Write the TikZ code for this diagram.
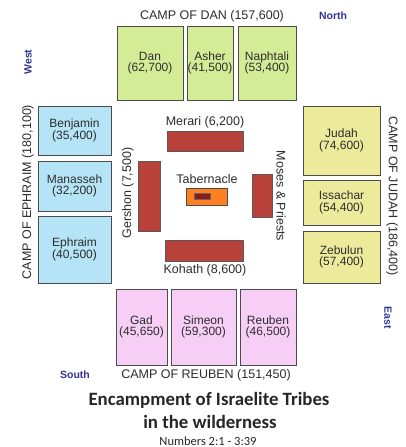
\documentclass[tikz,border=0pt]{standalone}
\usepackage{fontspec}
\setmainfont{Liberation Sans}
\newfontfamily\titlefont{Carlito}
\usetikzlibrary{positioning}

\definecolor{dangreen}{RGB}{212,236,150}
\definecolor{ephblue}{RGB}{180,228,246}
\definecolor{judyellow}{RGB}{238,234,156}
\definecolor{reupink}{RGB}{246,206,246}
\definecolor{levred}{RGB}{184,66,58}
\definecolor{taborange}{RGB}{255,128,32}
\definecolor{arkred}{RGB}{140,26,26}
\definecolor{compassblue}{RGB}{52,52,150}
\definecolor{labelgray}{RGB}{45,45,45}

\tikzset{
  tribe/.style={draw=black!70,line width=1pt,text=labelgray,align=center,inner sep=0pt,
    font=\fontsize{12}{11.5}\selectfont},
  levite/.style={draw=black!65,fill=levred,line width=0.6pt,inner sep=0pt},
  camp/.style={text=labelgray,inner sep=0pt,font=\fontsize{12.5}{14}\selectfont},
  compass/.style={text=compassblue,inner sep=0pt,font=\bfseries\fontsize{10.5}{12}\selectfont},
}

\begin{document}
\begin{tikzpicture}[x=1pt,y=-1pt]
  \useasboundingbox[fill=white] (0,0) rectangle (405,447);

  % camp of Dan (north)
  \node[tribe,fill=dangreen,minimum width=66pt,minimum height=74pt] (dan) at (150,63) {Dan\\(62,700)};
  \node[tribe,fill=dangreen,minimum width=46pt,minimum height=74pt] (asher) at (210,63) {Asher\\(41,500)};
  \node[tribe,fill=dangreen,minimum width=58pt,minimum height=74pt] (naphtali) at (267,63) {Naphtali\\(53,400)};
  \node[camp] (campdan) at (212,16) {CAMP OF DAN (157,600)};

  % camp of Ephraim (west)
  \node[tribe,fill=ephblue,minimum width=73pt,minimum height=49pt] (benjamin) at (74.5,130.5) {Benjamin\\(35,400)};
  \node[tribe,fill=ephblue,minimum width=73pt,minimum height=50pt] (manasseh) at (74.5,186) {Manasseh\\(32,200)};
  \node[tribe,fill=ephblue,minimum width=73pt,minimum height=67pt] (ephraim) at (74.5,249.5) {Ephraim\\(40,500)};
  \node[camp,rotate=90] (campephraim) at (28,192) {CAMP OF EPHRAIM (180,100)};

  % camp of Judah (east)
  \node[tribe,fill=judyellow,minimum width=77pt,minimum height=69pt] (judah) at (341.5,140.5) {Judah\\(74,600)};
  \node[tribe,fill=judyellow,minimum width=77pt,minimum height=45pt] (issachar) at (341.5,202.5) {Issachar\\(54,400)};
  \node[tribe,fill=judyellow,minimum width=77pt,minimum height=52pt] (zebulun) at (341.5,257) {Zebulun\\(57,400)};
  \node[camp,rotate=-90] (campjudah) at (392,196) {CAMP OF JUDAH (186,400)};

  % camp of Reuben (south)
  \node[tribe,fill=reupink,minimum width=51pt,minimum height=76pt] (gad) at (141.5,327) {Gad\\(45,650)};
  \node[tribe,fill=reupink,minimum width=65pt,minimum height=76pt] (simeon) at (203.5,327) {Simeon\\(59,300)};
  \node[tribe,fill=reupink,minimum width=56pt,minimum height=76pt] (reuben) at (268,327) {Reuben\\(46,500)};
  \node[camp] (campreuben) at (206,375) {CAMP OF REUBEN (151,450)};

  % Levites round the tabernacle
  \node[levite,minimum width=76pt,minimum height=20pt] (merari) at (205,141) {};
  \node[camp] (merarilabel) at (205,122) {Merari (6,200)};
  \node[levite,minimum width=22pt,minimum height=70pt] (gershon) at (149,196) {};
  \node[camp,rotate=90] (gershonlabel) at (128,193) {Gershon (7,500)};
  \node[levite,minimum width=20pt,minimum height=43pt] (moses) at (262,195.5) {};
  \node[camp,rotate=-90] (moseslabel) at (281,196) {Moses \& Priests};
  \node[levite,minimum width=78pt,minimum height=21pt] (kohath) at (204,250.5) {};
  \node[camp] (kohathlabel) at (205,270) {Kohath (8,600)};

  \node[draw=black!70,fill=taborange,line width=0.8pt,minimum width=41pt,minimum height=17pt] (tabernacle) at (206.5,196.5) {};
  \node[draw=black!60,fill=arkred,line width=0.4pt,minimum width=16pt,minimum height=6pt,inner sep=0pt] (ark) at (202,196) {};
  \node[camp] (tabernaclelabel) at (207,179) {Tabernacle};

  % compass points
  \node[compass] (north) at (333,16) {North};
  \node[compass,rotate=90] (west) at (28,62) {West};
  \node[compass] (south) at (75,375) {South};
  \node[compass,rotate=-90] (east) at (388,318) {East};

  % title
  \node[text=black!85,font=\titlefont\bfseries\fontsize{18.8}{20}\selectfont] (title) at (209,400) {Encampment of Israelite Tribes};
  \node[text=black!85,font=\titlefont\bfseries\fontsize{18.8}{20}\selectfont] (subtitle) at (210,422) {in the wilderness};
  \node[text=black!85,font=\titlefont\fontsize{12.5}{14}\selectfont] (reference) at (208,441) {Numbers 2:1 - 3:39};
\end{tikzpicture}
\end{document}
